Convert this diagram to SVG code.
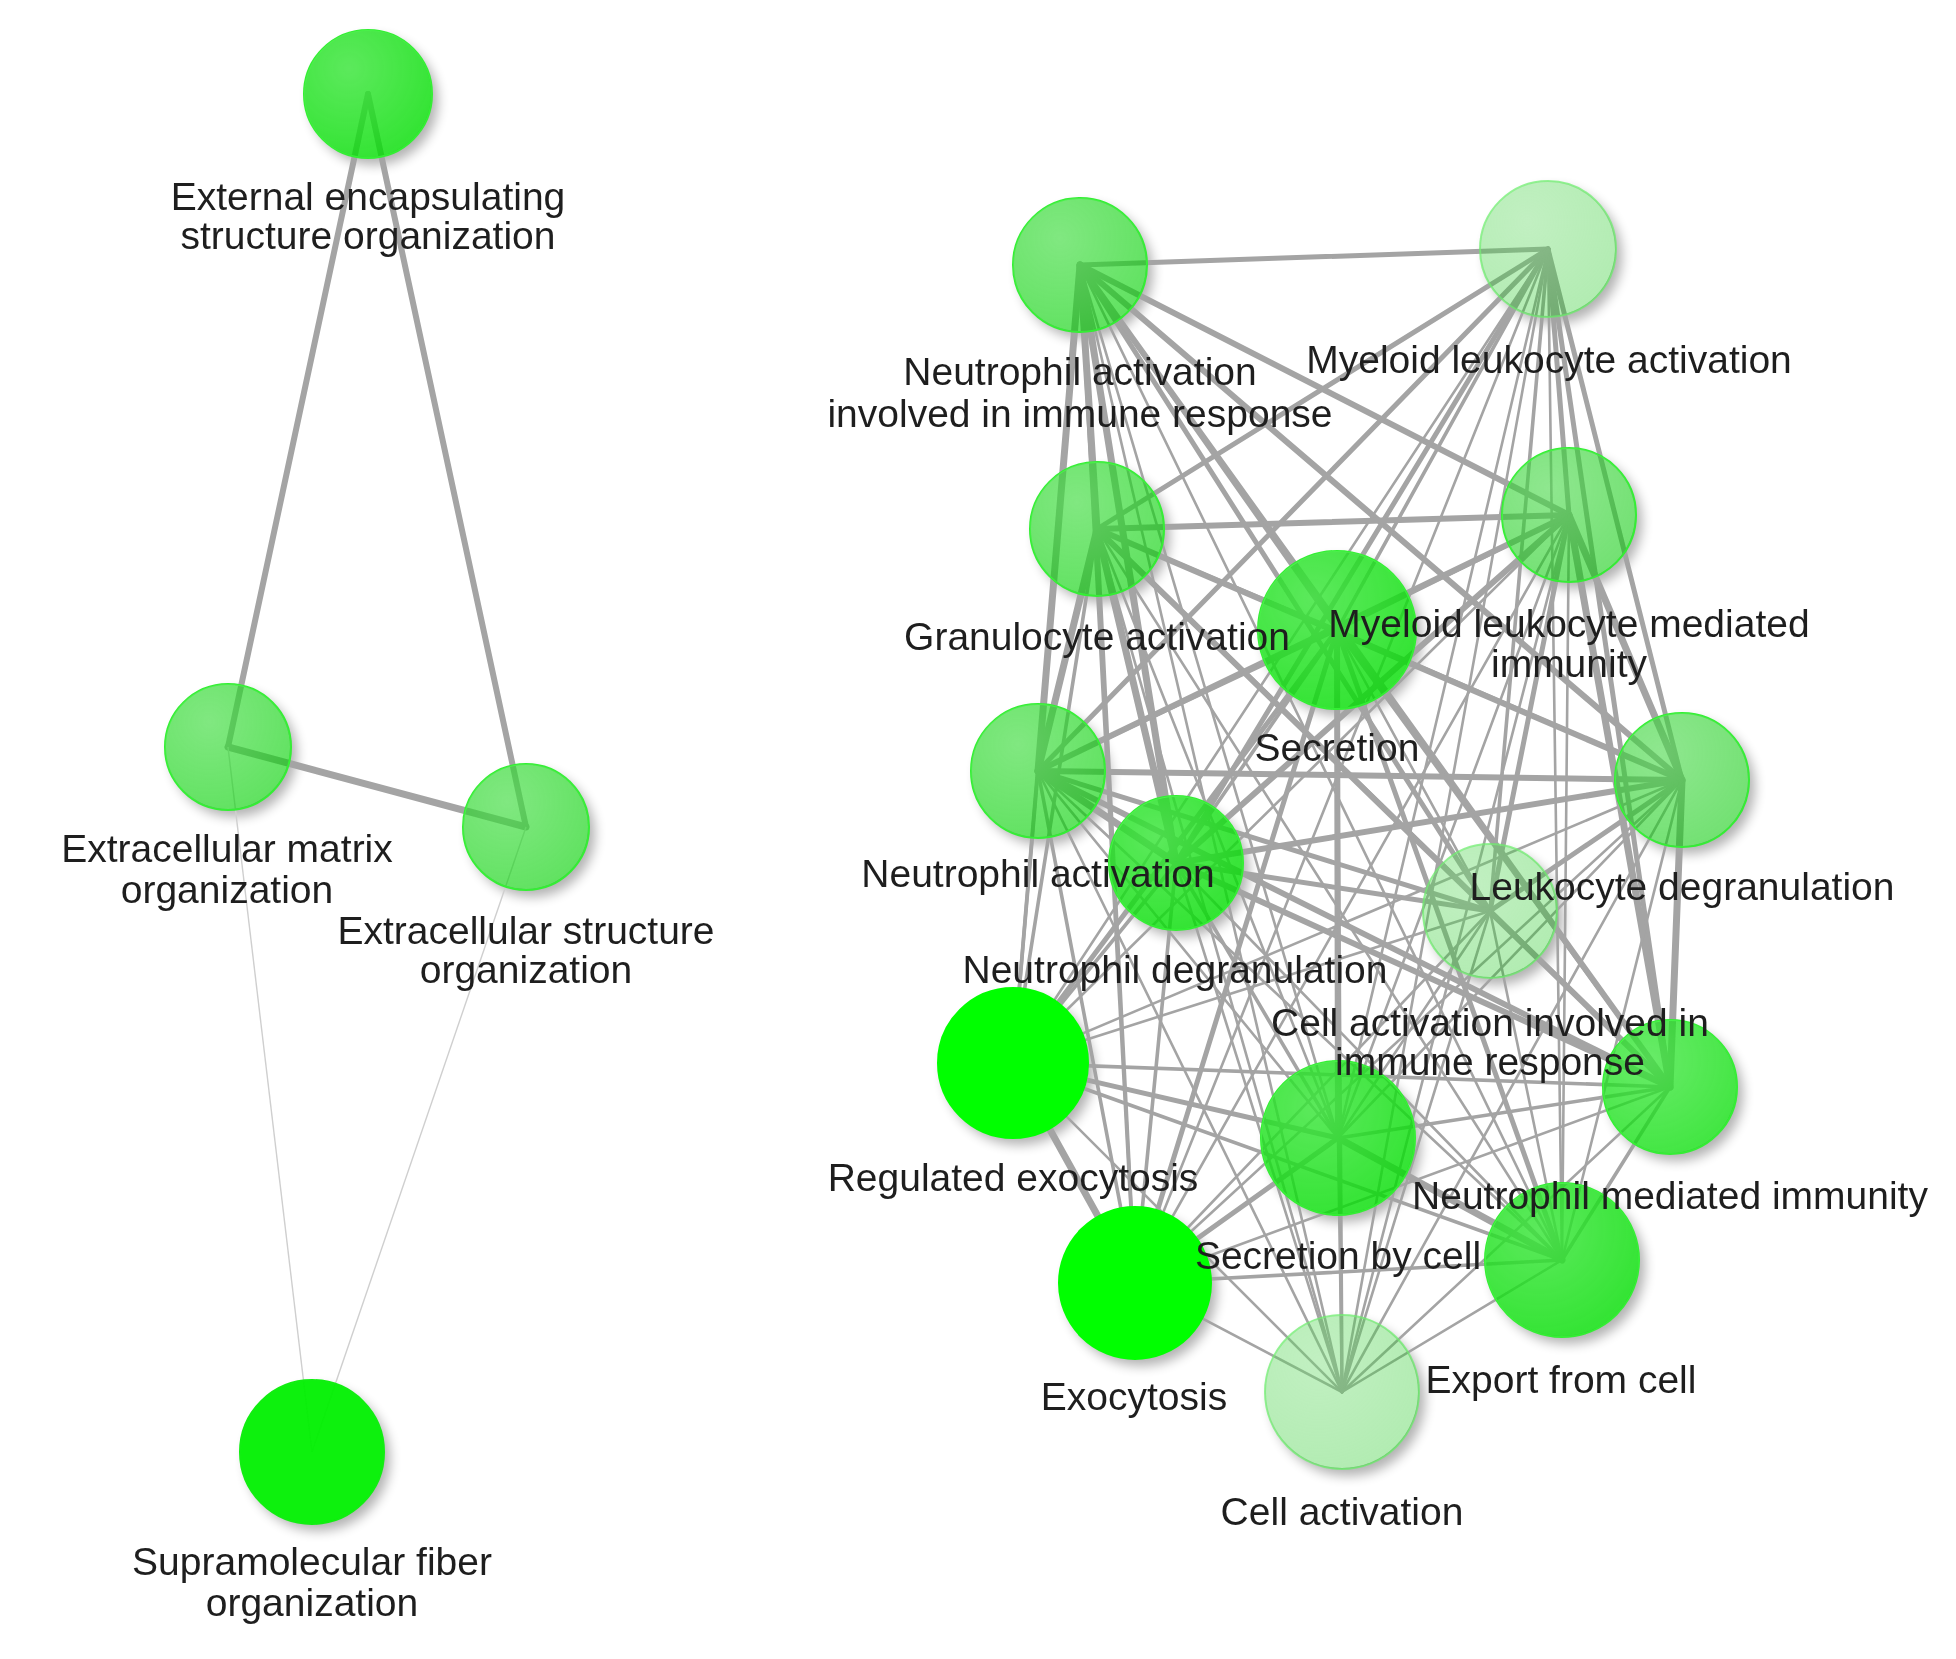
<svg xmlns="http://www.w3.org/2000/svg" width="1956" height="1659" viewBox="0 0 1956 1659">
<style>
.e{stroke:#a4a4a4;stroke-linecap:round;fill:none}
.t{stroke:#cfcfcf;stroke-width:1.4;fill:none}
.w6{stroke-width:7}.w5{stroke-width:6}.w4{stroke-width:5}.w3{stroke-width:3.6}.w2{stroke-width:2.6}
.sh{fill:#000;opacity:.3;filter:url(#blur)}
.n{stroke:#33ee33;stroke-width:2}
.g0{fill:#00ff00;stroke:#00ff00}
.g0b{fill:#00f000;fill-opacity:.95;stroke:#11ee11}
.g1{fill:#00dd00;fill-opacity:.8}
.g1b{fill:#00dd00;fill-opacity:.74}
.g2{fill:#00d000;fill-opacity:.62}
.g2b{fill:#00c800;fill-opacity:.55}
.g3{fill:#00c000;fill-opacity:.3;stroke:#66ee66;stroke-opacity:.7}
.hl{fill:url(#hlg)}
.lb{font-family:"Liberation Sans",Arial,sans-serif;font-size:39px;fill:#1e1e1e;text-anchor:middle}
</style>
<defs>
<filter id="blur" x="-50%" y="-50%" width="200%" height="200%"><feGaussianBlur stdDeviation="6"/></filter>
<radialGradient id="hlg" cx="0.35" cy="0.3" r="0.75">
<stop offset="0" stop-color="#fff" stop-opacity="0.2"/>
<stop offset="1" stop-color="#fff" stop-opacity="0"/>
</radialGradient>
<mask id="shm" maskUnits="userSpaceOnUse" x="0" y="0" width="1956" height="1659">
<rect x="0" y="0" width="1956" height="1659" fill="#fff"/>
<g fill="#000">
<circle cx="368" cy="94" r="63"/><circle cx="228" cy="747" r="62"/><circle cx="526" cy="827" r="62"/><circle cx="312" cy="1452" r="71"/>
<circle cx="1080" cy="265" r="66"/><circle cx="1548" cy="249" r="67"/><circle cx="1097" cy="529" r="66"/><circle cx="1569" cy="515" r="66"/>
<circle cx="1337" cy="630" r="78"/><circle cx="1038" cy="771" r="66"/><circle cx="1682" cy="780" r="66"/><circle cx="1176" cy="863" r="66"/>
<circle cx="1490" cy="911" r="66"/><circle cx="1013" cy="1063" r="74"/><circle cx="1670" cy="1087" r="66"/><circle cx="1338" cy="1138" r="76"/>
<circle cx="1135" cy="1283" r="75"/><circle cx="1562" cy="1260" r="76"/><circle cx="1342" cy="1392" r="76"/>
</g>
</mask>
</defs>
<rect width="1956" height="1659" fill="#fff"/>
<g id="shadows" mask="url(#shm)">
<g transform="translate(6,7)">
<circle class="sh" cx="368" cy="94" r="64"/><circle class="sh" cx="228" cy="747" r="63"/><circle class="sh" cx="526" cy="827" r="63"/><circle class="sh" cx="312" cy="1452" r="72"/>
<circle class="sh" cx="1080" cy="265" r="67"/><circle class="sh" cx="1548" cy="249" r="68"/><circle class="sh" cx="1097" cy="529" r="67"/><circle class="sh" cx="1569" cy="515" r="67"/>
<circle class="sh" cx="1337" cy="630" r="79"/><circle class="sh" cx="1038" cy="771" r="67"/><circle class="sh" cx="1682" cy="780" r="67"/><circle class="sh" cx="1176" cy="863" r="67"/>
<circle class="sh" cx="1490" cy="911" r="67"/><circle class="sh" cx="1013" cy="1063" r="75"/><circle class="sh" cx="1670" cy="1087" r="67"/><circle class="sh" cx="1338" cy="1138" r="77"/>
<circle class="sh" cx="1135" cy="1283" r="76"/><circle class="sh" cx="1562" cy="1260" r="77"/><circle class="sh" cx="1342" cy="1392" r="77"/>
</g>
</g>
<g id="connectors">
<!-- left cluster -->
<line class="e w5" x1="368" y1="94" x2="228" y2="747"/>
<line class="e w5" x1="368" y1="94" x2="526" y2="827"/>
<line class="e w6" x1="228" y1="747" x2="526" y2="827"/>
<line class="t" x1="228" y1="747" x2="312" y2="1452"/>
<line class="t" x1="526" y1="827" x2="312" y2="1452"/>
<!-- neutrophil group: A B C D F G H I K -->
<line class="e w4" x1="1080" y1="265" x2="1548" y2="249"/>
<line class="e w6" x1="1080" y1="265" x2="1097" y2="529"/>
<line class="e w5" x1="1080" y1="265" x2="1569" y2="515"/>
<line class="e w6" x1="1080" y1="265" x2="1038" y2="771"/>
<line class="e w5" x1="1080" y1="265" x2="1682" y2="780"/>
<line class="e w6" x1="1080" y1="265" x2="1176" y2="863"/>
<line class="e w4" x1="1080" y1="265" x2="1490" y2="911"/>
<line class="e w5" x1="1080" y1="265" x2="1670" y2="1087"/>
<line class="e w4" x1="1548" y1="249" x2="1097" y2="529"/>
<line class="e w4" x1="1548" y1="249" x2="1569" y2="515"/>
<line class="e w4" x1="1548" y1="249" x2="1038" y2="771"/>
<line class="e w4" x1="1548" y1="249" x2="1682" y2="780"/>
<line class="e w4" x1="1548" y1="249" x2="1176" y2="863"/>
<line class="e w3" x1="1548" y1="249" x2="1490" y2="911"/>
<line class="e w4" x1="1548" y1="249" x2="1670" y2="1087"/>
<line class="e w5" x1="1097" y1="529" x2="1569" y2="515"/>
<line class="e w6" x1="1097" y1="529" x2="1038" y2="771"/>
<line class="e w5" x1="1097" y1="529" x2="1682" y2="780"/>
<line class="e w6" x1="1097" y1="529" x2="1176" y2="863"/>
<line class="e w4" x1="1097" y1="529" x2="1490" y2="911"/>
<line class="e w5" x1="1097" y1="529" x2="1670" y2="1087"/>
<line class="e w5" x1="1569" y1="515" x2="1038" y2="771"/>
<line class="e w6" x1="1569" y1="515" x2="1682" y2="780"/>
<line class="e w5" x1="1569" y1="515" x2="1176" y2="863"/>
<line class="e w4" x1="1569" y1="515" x2="1490" y2="911"/>
<line class="e w6" x1="1569" y1="515" x2="1670" y2="1087"/>
<line class="e w5" x1="1038" y1="771" x2="1682" y2="780"/>
<line class="e w6" x1="1038" y1="771" x2="1176" y2="863"/>
<line class="e w4" x1="1038" y1="771" x2="1490" y2="911"/>
<line class="e w5" x1="1038" y1="771" x2="1670" y2="1087"/>
<line class="e w5" x1="1682" y1="780" x2="1176" y2="863"/>
<line class="e w4" x1="1682" y1="780" x2="1490" y2="911"/>
<line class="e w6" x1="1682" y1="780" x2="1670" y2="1087"/>
<line class="e w4" x1="1176" y1="863" x2="1490" y2="911"/>
<line class="e w5" x1="1176" y1="863" x2="1670" y2="1087"/>
<line class="e w4" x1="1490" y1="911" x2="1670" y2="1087"/>
<!-- secretion group: E J L M N -->
<line class="e w4" x1="1337" y1="630" x2="1013" y2="1063"/>
<line class="e w5" x1="1337" y1="630" x2="1338" y2="1138"/>
<line class="e w4" x1="1337" y1="630" x2="1135" y2="1283"/>
<line class="e w4" x1="1337" y1="630" x2="1562" y2="1260"/>
<line class="e w4" x1="1013" y1="1063" x2="1338" y2="1138"/>
<line class="e w6" x1="1013" y1="1063" x2="1135" y2="1283"/>
<line class="e w3" x1="1013" y1="1063" x2="1562" y2="1260"/>
<line class="e w4" x1="1338" y1="1138" x2="1135" y2="1283"/>
<line class="e w6" x1="1338" y1="1138" x2="1562" y2="1260"/>
<line class="e w3" x1="1135" y1="1283" x2="1562" y2="1260"/>
<!-- cross: neutrophil group x secretion group -->
<line class="e w3" x1="1080" y1="265" x2="1337" y2="630"/>
<line class="e w3" x1="1080" y1="265" x2="1013" y2="1063"/>
<line class="e w2" x1="1080" y1="265" x2="1338" y2="1138"/>
<line class="e w3" x1="1080" y1="265" x2="1135" y2="1283"/>
<line class="e w2" x1="1080" y1="265" x2="1562" y2="1260"/>
<line class="e w3" x1="1548" y1="249" x2="1337" y2="630"/>
<line class="e w2" x1="1548" y1="249" x2="1013" y2="1063"/>
<line class="e w2" x1="1548" y1="249" x2="1338" y2="1138"/>
<line class="e w2" x1="1548" y1="249" x2="1135" y2="1283"/>
<line class="e w2" x1="1548" y1="249" x2="1562" y2="1260"/>
<line class="e w3" x1="1097" y1="529" x2="1337" y2="630"/>
<line class="e w3" x1="1097" y1="529" x2="1013" y2="1063"/>
<line class="e w2" x1="1097" y1="529" x2="1338" y2="1138"/>
<line class="e w3" x1="1097" y1="529" x2="1135" y2="1283"/>
<line class="e w2" x1="1097" y1="529" x2="1562" y2="1260"/>
<line class="e w3" x1="1569" y1="515" x2="1337" y2="630"/>
<line class="e w2" x1="1569" y1="515" x2="1013" y2="1063"/>
<line class="e w2" x1="1569" y1="515" x2="1338" y2="1138"/>
<line class="e w2" x1="1569" y1="515" x2="1135" y2="1283"/>
<line class="e w2" x1="1569" y1="515" x2="1562" y2="1260"/>
<line class="e w3" x1="1038" y1="771" x2="1337" y2="630"/>
<line class="e w3" x1="1038" y1="771" x2="1013" y2="1063"/>
<line class="e w2" x1="1038" y1="771" x2="1338" y2="1138"/>
<line class="e w3" x1="1038" y1="771" x2="1135" y2="1283"/>
<line class="e w2" x1="1038" y1="771" x2="1562" y2="1260"/>
<line class="e w3" x1="1682" y1="780" x2="1337" y2="630"/>
<line class="e w2" x1="1682" y1="780" x2="1013" y2="1063"/>
<line class="e w2" x1="1682" y1="780" x2="1338" y2="1138"/>
<line class="e w2" x1="1682" y1="780" x2="1135" y2="1283"/>
<line class="e w2" x1="1682" y1="780" x2="1562" y2="1260"/>
<line class="e w3" x1="1176" y1="863" x2="1337" y2="630"/>
<line class="e w3" x1="1176" y1="863" x2="1013" y2="1063"/>
<line class="e w3" x1="1176" y1="863" x2="1338" y2="1138"/>
<line class="e w3" x1="1176" y1="863" x2="1135" y2="1283"/>
<line class="e w2" x1="1176" y1="863" x2="1562" y2="1260"/>
<line class="e w2" x1="1490" y1="911" x2="1337" y2="630"/>
<line class="e w2" x1="1490" y1="911" x2="1013" y2="1063"/>
<line class="e w2" x1="1490" y1="911" x2="1338" y2="1138"/>
<line class="e w2" x1="1490" y1="911" x2="1135" y2="1283"/>
<line class="e w2" x1="1490" y1="911" x2="1562" y2="1260"/>
<line class="e w3" x1="1670" y1="1087" x2="1337" y2="630"/>
<line class="e w3" x1="1670" y1="1087" x2="1013" y2="1063"/>
<line class="e w3" x1="1670" y1="1087" x2="1338" y2="1138"/>
<line class="e w2" x1="1670" y1="1087" x2="1135" y2="1283"/>
<line class="e w3" x1="1670" y1="1087" x2="1562" y2="1260"/>
<!-- cell activation O -->
<line class="e w2" x1="1342" y1="1392" x2="1080" y2="265"/>
<line class="e w2" x1="1342" y1="1392" x2="1548" y2="249"/>
<line class="e w2" x1="1342" y1="1392" x2="1097" y2="529"/>
<line class="e w2" x1="1342" y1="1392" x2="1569" y2="515"/>
<line class="e w3" x1="1342" y1="1392" x2="1337" y2="630"/>
<line class="e w2" x1="1342" y1="1392" x2="1038" y2="771"/>
<line class="e w2" x1="1342" y1="1392" x2="1682" y2="780"/>
<line class="e w2" x1="1342" y1="1392" x2="1176" y2="863"/>
<line class="e w2" x1="1342" y1="1392" x2="1490" y2="911"/>
<line class="e w2" x1="1342" y1="1392" x2="1013" y2="1063"/>
<line class="e w2" x1="1342" y1="1392" x2="1670" y2="1087"/>
<line class="e w2" x1="1342" y1="1392" x2="1338" y2="1138"/>
<line class="e w2" x1="1342" y1="1392" x2="1135" y2="1283"/>
<line class="e w2" x1="1342" y1="1392" x2="1562" y2="1260"/>
</g>
<g id="nodes">
<g id="n-external"><circle class="n g1" cx="368" cy="94" r="64"/><circle class="hl" cx="368" cy="94" r="64"/></g>
<g id="n-ecm"><circle class="n g2" cx="228" cy="747" r="63"/><circle class="hl" cx="228" cy="747" r="63"/></g>
<g id="n-ecs"><circle class="n g2" cx="526" cy="827" r="63"/><circle class="hl" cx="526" cy="827" r="63"/></g>
<g id="n-supra"><circle class="n g0b" cx="312" cy="1452" r="72"/></g>
<g id="n-naiir"><circle class="n g2" cx="1080" cy="265" r="67"/><circle class="hl" cx="1080" cy="265" r="67"/></g>
<g id="n-mla"><circle class="n g3" cx="1548" cy="249" r="68"/><circle class="hl" cx="1548" cy="249" r="68"/></g>
<g id="n-gran"><circle class="n g2" cx="1097" cy="529" r="67"/><circle class="hl" cx="1097" cy="529" r="67"/></g>
<g id="n-mlmi"><circle class="n g2b" cx="1569" cy="515" r="67"/><circle class="hl" cx="1569" cy="515" r="67"/></g>
<g id="n-secretion"><circle class="n g1" cx="1337" cy="630" r="79"/><circle class="hl" cx="1337" cy="630" r="79"/></g>
<g id="n-neutact"><circle class="n g2" cx="1038" cy="771" r="67"/><circle class="hl" cx="1038" cy="771" r="67"/></g>
<g id="n-leukdeg"><circle class="n g2b" cx="1682" cy="780" r="67"/><circle class="hl" cx="1682" cy="780" r="67"/></g>
<g id="n-neutdeg"><circle class="n g1" cx="1176" cy="863" r="67"/><circle class="hl" cx="1176" cy="863" r="67"/></g>
<g id="n-caiir"><circle class="n g3" cx="1490" cy="911" r="67"/><circle class="hl" cx="1490" cy="911" r="67"/></g>
<g id="n-regexo"><circle class="n g0" cx="1013" cy="1063" r="75"/></g>
<g id="n-nmi"><circle class="n g1b" cx="1670" cy="1087" r="67"/><circle class="hl" cx="1670" cy="1087" r="67"/></g>
<g id="n-secbycell"><circle class="n g1" cx="1338" cy="1138" r="77"/><circle class="hl" cx="1338" cy="1138" r="77"/></g>
<g id="n-exo"><circle class="n g0" cx="1135" cy="1283" r="76"/></g>
<g id="n-export"><circle class="n g1" cx="1562" cy="1260" r="77"/><circle class="hl" cx="1562" cy="1260" r="77"/></g>
<g id="n-cellact"><circle class="n g3" cx="1342" cy="1392" r="77"/><circle class="hl" cx="1342" cy="1392" r="77"/></g>
</g>
<g id="labels">
<text class="lb" x="368" y="210">External encapsulating</text>
<text class="lb" x="368" y="249">structure organization</text>
<text class="lb" x="227" y="862">Extracellular matrix</text>
<text class="lb" x="227" y="903">organization</text>
<text class="lb" x="526" y="944">Extracellular structure</text>
<text class="lb" x="526" y="983">organization</text>
<text class="lb" x="312" y="1575">Supramolecular fiber</text>
<text class="lb" x="312" y="1616">organization</text>
<text class="lb" x="1080" y="385">Neutrophil activation</text>
<text class="lb" x="1080" y="427">involved in immune response</text>
<text class="lb" x="1549" y="373">Myeloid leukocyte activation</text>
<text class="lb" x="1097" y="650">Granulocyte activation</text>
<text class="lb" x="1569" y="637">Myeloid leukocyte mediated</text>
<text class="lb" x="1569" y="677">immunity</text>
<text class="lb" x="1337" y="761">Secretion</text>
<text class="lb" x="1038" y="887">Neutrophil activation</text>
<text class="lb" x="1682" y="900">Leukocyte degranulation</text>
<text class="lb" x="1175" y="983">Neutrophil degranulation</text>
<text class="lb" x="1490" y="1036">Cell activation involved in</text>
<text class="lb" x="1490" y="1075">immune response</text>
<text class="lb" x="1013" y="1191">Regulated exocytosis</text>
<text class="lb" x="1670" y="1209">Neutrophil mediated immunity</text>
<text class="lb" x="1338" y="1269">Secretion by cell</text>
<text class="lb" x="1134" y="1410">Exocytosis</text>
<text class="lb" x="1561" y="1393">Export from cell</text>
<text class="lb" x="1342" y="1525">Cell activation</text>
</g>
</svg>
